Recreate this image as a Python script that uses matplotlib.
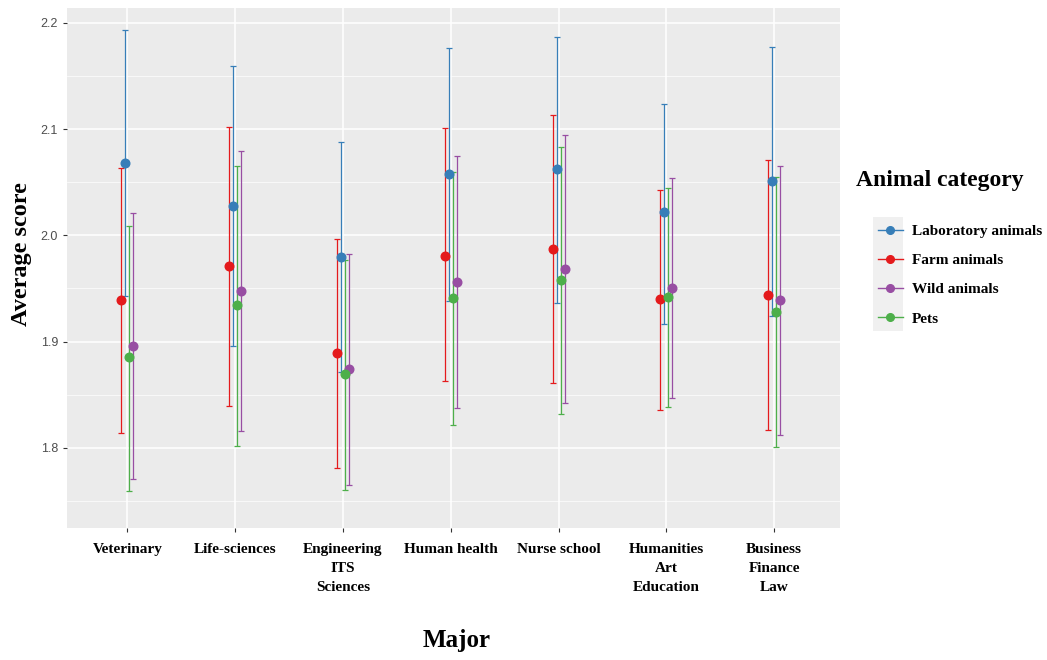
import matplotlib
matplotlib.use("Agg")
import matplotlib.pyplot as plt
from matplotlib.lines import Line2D
from matplotlib.patches import Rectangle
import numpy as np

majors = ["Veterinary", "Life-sciences", "Engineering\nITS\nSciences", "Human health",
          "Nurse school", "Humanities\nArt\nEducation", "Business\nFinance\nLaw"]
categories = ["Laboratory animals", "Farm animals", "Wild animals", "Pets"]
colors = ["#377EB8", "#E41A1C", "#984EA3", "#4DAF4A"]

lab_mean = [2.068, 2.028, 1.980, 2.058, 2.062, 2.022, 2.051]
lab_low = [1.943, 1.896, 1.871, 1.938, 1.936, 1.917, 1.924]
lab_high = [2.193, 2.159, 2.088, 2.176, 2.187, 2.124, 2.177]
farm_mean = [1.939, 1.971, 1.889, 1.981, 1.987, 1.940, 1.944]
farm_low = [1.814, 1.839, 1.781, 1.863, 1.861, 1.836, 1.817]
farm_high = [2.063, 2.102, 1.997, 2.101, 2.113, 2.043, 2.071]
wild_mean = [1.896, 1.948, 1.874, 1.956, 1.968, 1.950, 1.939]
wild_low = [1.771, 1.816, 1.765, 1.837, 1.842, 1.847, 1.812]
wild_high = [2.021, 2.079, 1.982, 2.075, 2.094, 2.054, 2.065]
pets_mean = [1.885, 1.934, 1.869, 1.941, 1.958, 1.942, 1.928]
pets_low = [1.759, 1.802, 1.760, 1.821, 1.832, 1.838, 1.801]
pets_high = [2.009, 2.065, 1.977, 2.060, 2.083, 2.045, 2.055]

series = [
    (lab_mean, lab_low, lab_high),
    (farm_mean, farm_low, farm_high),
    (wild_mean, wild_low, wild_high),
    (pets_mean, pets_low, pets_high),
]
dodge = [-0.018, -0.055, 0.055, 0.018]

SERIF = "Liberation Serif"
SANS = "Liberation Sans"

fig = plt.figure(figsize=(10.47, 6.6), dpi=100)
ax = fig.add_axes([67 / 1047, 1 - 528 / 660, (840 - 67) / 1047, (528 - 8) / 660])
ax.set_facecolor("#EBEBEB")
for s in ax.spines.values():
    s.set_visible(False)

x = np.arange(len(majors))
for (m, lo, hi), c, d in zip(series, colors, dodge):
    m = np.array(m); lo = np.array(lo); hi = np.array(hi)
    ax.errorbar(x + d, m, yerr=[m - lo, hi - m], fmt="o", color=c, ecolor=c,
                elinewidth=0.9, capsize=2.4, capthick=0.9, markersize=6.2, zorder=3)

ax.set_xlim(-0.56, 6.61)
ax.set_ylim(1.7245, 2.214)
ax.set_yticks([1.8, 1.9, 2.0, 2.1, 2.2])
ax.set_yticks([1.75, 1.85, 1.95, 2.05, 2.15], minor=True)
ax.set_xticks(x)
ax.set_xticklabels(majors, fontfamily=SERIF, fontweight="bold", fontsize=11, color="black",
                   linespacing=1.6)
ax.grid(True, which="major", color="white", linewidth=1.1)
ax.grid(True, which="minor", axis="y", color="white", linewidth=0.5)
ax.set_axisbelow(True)
ax.tick_params(axis="both", which="major", length=3, color="#333333", width=0.8)
ax.tick_params(axis="y", which="minor", length=0)
ax.tick_params(axis="x", pad=8)
for lab in ax.get_yticklabels():
    lab.set_fontfamily(SANS)
    lab.set_fontsize(9)
    lab.set_color("#4D4D4D")

fig.text(22 / 1047, 1 - 254 / 660, "Average score", rotation=90, ha="center", va="center",
         fontfamily=SERIF, fontweight="bold", fontsize=17.5)
fig.text(457 / 1047, 1 - 641 / 660, "Major", ha="center", va="center",
         fontfamily=SERIF, fontweight="bold", fontsize=18)

fig.text(856 / 1047, 1 - 181 / 660, "Animal category", ha="left", va="center",
         fontfamily=SERIF, fontweight="bold", fontsize=17)

fig.patches.append(Rectangle((873 / 1047, 1 - 331 / 660), 30 / 1047, 114 / 660,
                             transform=fig.transFigure, facecolor="#F0F0F0",
                             edgecolor="none", zorder=0))
handles = [Line2D([0], [0], color=c, marker="o", markersize=5.5, linewidth=1.0)
           for c in colors]
leg = fig.legend(handles, categories, loc="upper left",
                 bbox_to_anchor=(866 / 1047, 1 - 212 / 660),
                 frameon=False, handlelength=1.6, handletextpad=0.6,
                 labelspacing=1.02, borderpad=0.3,
                 prop={"family": SERIF, "weight": "bold", "size": 11})

fig.savefig("out.png", dpi=100)
